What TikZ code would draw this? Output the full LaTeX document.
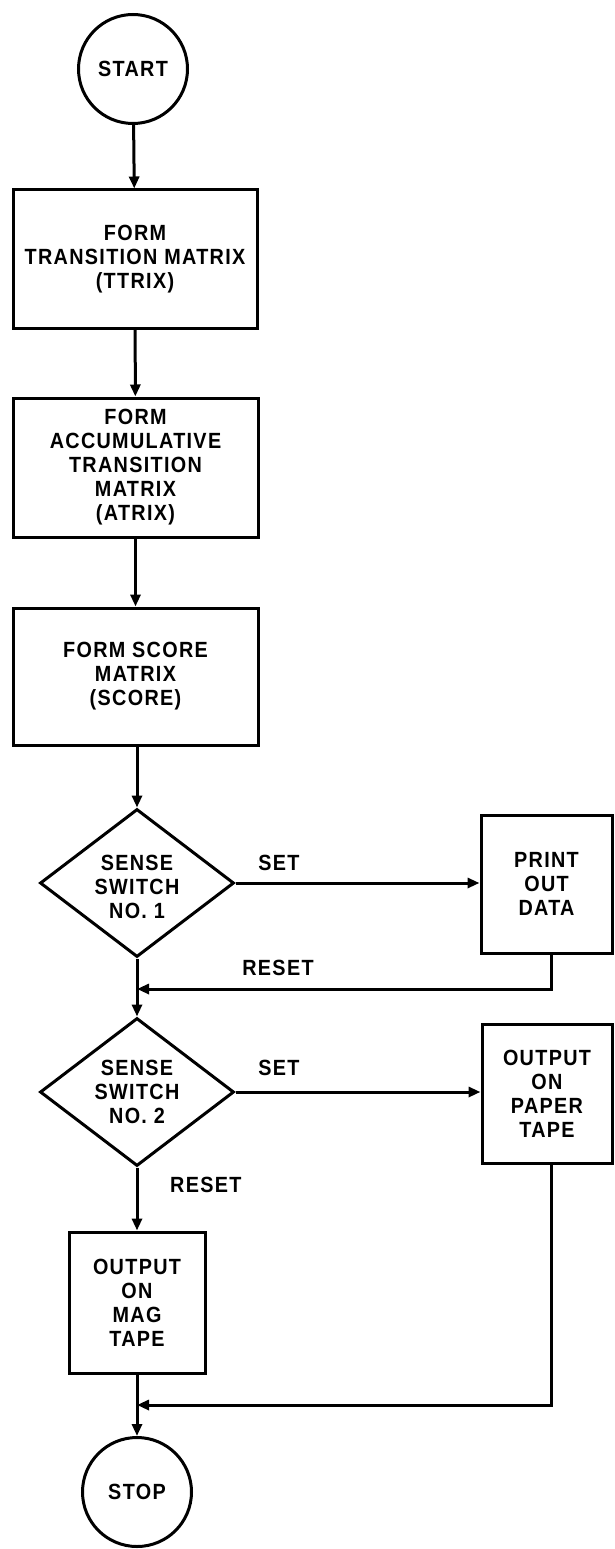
\documentclass[tikz,border=0pt]{standalone}
\usepackage{fontspec}
\setmainfont{Liberation Sans}[LetterSpace=6,FakeStretch=0.9]
\usetikzlibrary{shapes.geometric,arrows.meta}
\begin{document}
\begin{tikzpicture}[x=1pt,y=-1pt,
  every node/.style={font=\fontsize{22}{24}\selectfont\bfseries, align=center},
  proc/.style={draw, line width=3pt, rectangle, inner sep=0pt},
  term/.style={draw, line width=3pt, circle, minimum size=109pt, inner sep=0pt},
  dec/.style={draw, line width=3pt, diamond, minimum width=194pt, minimum height=148pt, inner sep=0pt},
  flow/.style={line width=3pt, -{Triangle[length=12pt,width=10pt]}},
  lbl/.style={inner sep=0pt}
]
\useasboundingbox (0,0) rectangle (614,1549);
\node[term] (start) at (133,69) {START};
\node[proc, minimum width=244pt, minimum height=138pt] (ttrix) at (135,259) {FORM\\TRANSITION MATRIX\\(TTRIX)};
\node[proc, minimum width=245pt, minimum height=139pt] (atrix) at (135.5,467.5) {FORM\\ACCUMULATIVE\\TRANSITION\\MATRIX\\(ATRIX)};
\node[proc, minimum width=245pt, minimum height=137pt] (score) at (135.5,676.5) {FORM SCORE\\MATRIX\\(SCORE)};
\node[dec] (d1) at (137,883) {};
\node[lbl] (d1t) at (137,887) {SENSE\\SWITCH\\NO. 1};
\node[proc, minimum width=131pt, minimum height=138pt] (print) at (546.5,884) {PRINT\\OUT\\DATA};
\coordinate (j1) at (137,989);
\node[dec] (d2) at (137,1092) {};
\node[lbl] (d2t) at (137,1092) {SENSE\\SWITCH\\NO. 2};
\node[proc, minimum width=130pt, minimum height=139pt] (paper) at (547,1093.5) {OUTPUT\\ON\\PAPER\\TAPE};
\node[proc, minimum width=136pt, minimum height=141pt] (mag) at (137,1302.5) {OUTPUT\\ON\\MAG\\TAPE};
\coordinate (j2) at (137,1405);
\node[term] (stop) at (137,1492) {STOP};
\node[lbl] (set1) at (279,863) {SET};
\node[lbl] (reset1) at (278,968) {RESET};
\node[lbl] (set2) at (279,1068) {SET};
\node[lbl, anchor=west] (reset2) at (170,1185) {RESET};
\draw[flow] (start) -- (ttrix);
\draw[flow] (ttrix) -- (atrix);
\draw[flow] (atrix) -- (score);
\draw[flow] (score.south -| d1.north) -- (d1.north);
\draw[flow] (d1.east) -- (print.west |- d1.east);
\draw[flow] ([xshift=4.5pt]print.south) |- (j1);
\draw[flow] (d1.south) -- (d2.north);
\draw[flow] (d2.east) -- (paper.west |- d2.east);
\draw[flow] (d2.south) -- (mag.north);
\draw[flow] ([xshift=4pt]paper.south) |- (j2);
\draw[flow] (mag.south) -- (stop.north);
\end{tikzpicture}
\end{document}
